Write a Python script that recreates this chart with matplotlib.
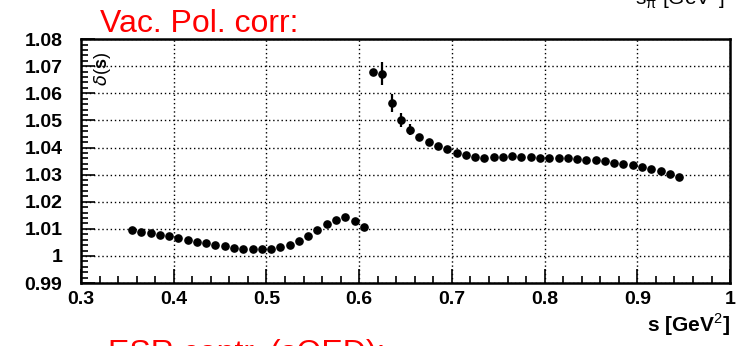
import matplotlib
matplotlib.use('Agg')
import matplotlib.pyplot as plt
from matplotlib.ticker import MultipleLocator, FormatStrFormatter

plt.rcParams['font.family'] = ['Liberation Sans', 'DejaVu Sans']
plt.rcParams['mathtext.fontset'] = 'custom'
plt.rcParams['mathtext.rm'] = 'Liberation Sans'
plt.rcParams['mathtext.bf'] = 'Liberation Sans:bold'

# below the rho-omega region
s_low = [0.355, 0.365, 0.375, 0.385, 0.395, 0.405, 0.415, 0.425, 0.435, 0.445,
         0.455, 0.465, 0.475, 0.485, 0.495, 0.505, 0.515, 0.525, 0.535, 0.545,
         0.555, 0.565, 0.575, 0.585, 0.595, 0.605]
d_low = [1.0096, 1.0090, 1.0084, 1.0078, 1.0072, 1.0066, 1.0060, 1.0053, 1.0048, 1.0041,
         1.0036, 1.0031, 1.0026, 1.0024, 1.0024, 1.0027, 1.0032, 1.0042, 1.0055, 1.0072,
         1.0094, 1.0116, 1.0133, 1.0142, 1.0130, 1.0105]

# above
s_high = [0.615, 0.625, 0.635, 0.645, 0.655, 0.665, 0.675, 0.685, 0.695, 0.705,
          0.715, 0.725, 0.735, 0.745, 0.755, 0.765, 0.775, 0.785, 0.795, 0.805,
          0.815, 0.825, 0.835, 0.845, 0.855, 0.865, 0.875, 0.885, 0.895, 0.905,
          0.915, 0.925, 0.935, 0.945]
d_high = [1.0677, 1.0672, 1.0565, 1.0502, 1.0466, 1.0439, 1.0419, 1.0404, 1.0394, 1.0381,
          1.0374, 1.0366, 1.0362, 1.0365, 1.0366, 1.0367, 1.0366, 1.0366, 1.0363, 1.0363,
          1.0362, 1.0360, 1.0357, 1.0355, 1.0354, 1.0350, 1.0344, 1.0340, 1.0334, 1.0329,
          1.0322, 1.0313, 1.0302, 1.0291]
e_high = [0.0, 0.0043, 0.0033, 0.0027, 0.0020, 0.0012] + [0.0] * 28

fig = plt.figure(figsize=(7.51, 3.46), dpi=100)
ax = fig.add_axes([0.1079, 0.182, 0.8642, 0.705])

ax.plot(s_low, d_low, 'o', color='black', ms=5.2, mec='black')
ax.errorbar(s_high, d_high, yerr=e_high, fmt='o', color='black', ms=5.2,
            elinewidth=1.6, capsize=0)

ax.set_xlim(0.3, 1.0)
ax.set_ylim(0.99, 1.08)
ax.xaxis.set_major_locator(MultipleLocator(0.1))
ax.xaxis.set_minor_locator(MultipleLocator(0.02))
ax.yaxis.set_major_locator(MultipleLocator(0.01))
ax.yaxis.set_minor_locator(MultipleLocator(0.002))
ax.xaxis.set_major_formatter(FormatStrFormatter('%g'))
ax.yaxis.set_major_formatter(FormatStrFormatter('%g'))

ax.grid(True, which='major', color='black', linestyle=(0, (1, 2)), linewidth=1.0)
ax.tick_params(which='both', direction='in', top=False, right=False, width=1.2)
ax.tick_params(which='major', length=10)
ax.tick_params(which='minor', length=5)
ax.tick_params(axis='y', which='major', pad=13.5)
ax.tick_params(axis='x', which='major', pad=6)
for lab in ax.get_xticklabels() + ax.get_yticklabels():
    lab.set_fontsize(14)
    lab.set_fontweight('bold')
for sp in ax.spines.values():
    sp.set_linewidth(1.8)

ax.text(0.033, 0.945, r'$\delta$($\mathbf{s}$)', transform=ax.transAxes, rotation=90,
        ha='center', va='top', fontsize=13)

fig.text(0.972, 0.041, r's [GeV$^{2}$]', ha='right', va='baseline',
         fontsize=15, fontweight='bold')
fig.text(0.965, 0.986, 's$_{\\mathrm{π}}$ [GeV$^{2}$]', ha='right', va='baseline',
         fontsize=15)

fig.text(0.133, 0.908, 'Vac. Pol. corr:', color='red', fontsize=23,
         ha='left', va='baseline')
fig.text(0.144, -0.047, 'ESR contr. (sQED):', color='red', fontsize=23,
         ha='left', va='baseline')

fig.savefig('out.png', dpi=100)
